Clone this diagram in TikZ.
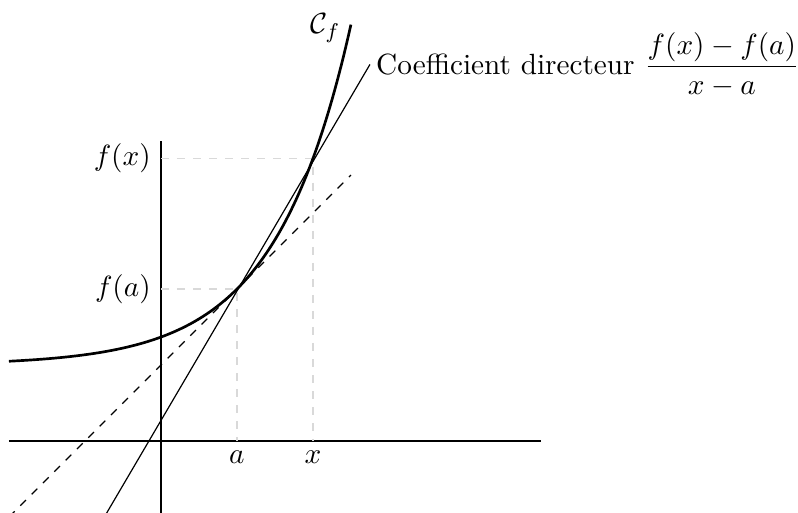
\documentclass[tikz,border=0pt,11pt]{standalone}
\begin{document}
\begin{tikzpicture}[x=1cm,y=1cm,
  axis/.style={line width=0.45pt},
  guide/.style={dashed,gray!30,line width=0.5pt},
  curve/.style={line width=1pt},
  tangent/.style={dashed,line width=0.45pt},
  secant/.style={line width=0.45pt}]
\useasboundingbox (-2.118,-0.934) rectangle (8.382,5.803);
\clip (-2.118,-0.934) rectangle (8.382,5.803);
% key points
\coordinate (O) at (0,0);
\coordinate (A) at (1,2);
\coordinate (X) at (2,3.71828);
\coordinate (Ax) at (1,0);
\coordinate (Xx) at (2,0);
\coordinate (Ay) at (0,2);
\coordinate (Xy) at (0,3.71828);
% axes
\coordinate (HL) at (-2,0);
\coordinate (HR) at (5,0);
\coordinate (VB) at (0,-1);
\coordinate (VT) at (0,3.95);
\draw[axis] (HL) -- (HR);
\draw[axis] (VB) -- (VT);
% guides
\draw[guide] (Xy) -- (X) -- (Xx);
\draw[guide] (Ay) -- (A) -- (Ax);
% labels
\node[left] (lfx) at (Xy) {$f(x)$};
\node[left] (lfa) at (Ay) {$f(a)$};
\node[below] (la) at (Ax) {$a$};
\node[below] (lx) at (Xx) {$x$};
% curve
\draw[curve,domain=-2:2.5,samples=150,smooth] plot (\x,{1+exp(\x-1)});
\node (cf) at (2.16,5.43) {$\mathcal{C}_f$};
% tangent
\coordinate (T1) at (-2,-1);
\coordinate (T2) at (2.5,3.5);
\draw[tangent] (T1) -- (T2);
% secant
\coordinate (S1) at (-0.8,{2+1.71828*(-1.8)});
\coordinate (S2) at (2.75,{2+1.71828*1.72});
\draw[secant] (S1) -- (S2);
\node[right,xshift=-1.5pt] (coef) at (S2) {Coefficient directeur $\displaystyle\frac{f(x)-f(a)}{x-a}$};
\end{tikzpicture}
\end{document}
